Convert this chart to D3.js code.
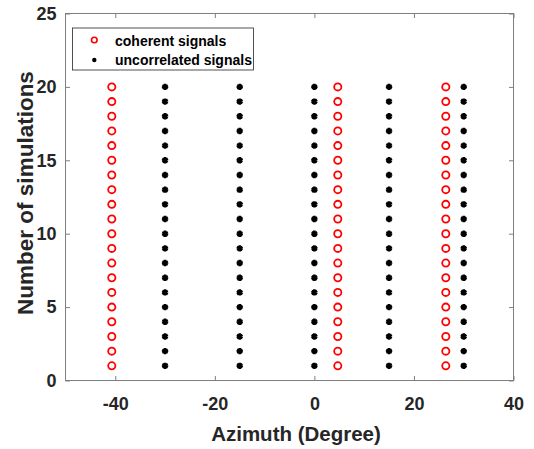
<!DOCTYPE html>
<html><head><meta charset="utf-8">
<script src="https://cdn.jsdelivr.net/npm/d3@7"></script>
<style>body{margin:0;background:#fff}svg{display:block}text{font-family:"Liberation Sans",Arial,sans-serif;font-weight:bold}</style>
</head><body><svg id="c" width="534" height="449"></svg>
<script>
const simulations = [1,2,3,4,5,6,7,8,9,10,11,12,13,14,15,16,17,18,19,20];
const coherentAzimuths = [-40.7, 4.7, 26.4];
const uncorrelatedAzimuths = [-30, -15, 0, 15, 30];
const xTicks = [-40, -20, 0, 20, 40];
const yTicks = [0, 5, 10, 15, 20, 25];
const legendLabels = ["coherent signals", "uncorrelated signals"];

const svg = d3.select("#c");
const m = {l:65.5, r:513.5, t:13.5, b:380.5};
const x = d3.scaleLinear().domain([-50, 40]).range([m.l, m.r]);
const y = d3.scaleLinear().domain([0, 25]).range([m.b, m.t]);
const axisColor = "#7f7f7f";

svg.append("rect").attr("x", m.l).attr("y", m.t).attr("width", m.r-m.l).attr("height", m.b-m.t)
  .attr("fill","none").attr("stroke", axisColor).attr("stroke-width",1);

const tl = 4.5;
const gx = svg.append("g").attr("transform",`translate(0,${m.b})`)
  .call(d3.axisBottom(x).tickValues(xTicks).tickSizeInner(-tl).tickSizeOuter(0).tickPadding(17));
const gxt = svg.append("g").attr("transform",`translate(0,${m.t})`)
  .call(d3.axisTop(x).tickValues(xTicks).tickSizeInner(-tl).tickSizeOuter(0).tickFormat(""));
const gy = svg.append("g").attr("transform",`translate(${m.l},0)`)
  .call(d3.axisLeft(y).tickValues(yTicks).tickSizeInner(-tl).tickSizeOuter(0).tickPadding(9));
const gyr = svg.append("g").attr("transform",`translate(${m.r},0)`)
  .call(d3.axisRight(y).tickValues(yTicks).tickSizeInner(-tl).tickSizeOuter(0).tickFormat(""));
[gx,gxt,gy,gyr].forEach(g=>{
  g.select(".domain").remove();
  g.selectAll("line").attr("stroke", axisColor);
  g.selectAll("text").attr("fill","#262626").style("font-size","18px").style("font-family","Liberation Sans, Arial, sans-serif").style("font-weight","bold");
});
gx.selectAll("text").text(d=>d<0?"-"+Math.abs(d):d);

const coherent = [];
coherentAzimuths.forEach(a=>simulations.forEach(s=>coherent.push({a, s})));
const uncorr = [];
uncorrelatedAzimuths.forEach(a=>simulations.forEach(s=>uncorr.push({a, s})));

const star = d3.symbol(d3.symbolAsterisk, 28);
svg.append("g").selectAll("path").data(uncorr).join("path")
  .attr("d", star).attr("transform", d=>`translate(${x(d.a)},${y(d.s)})`)
  .attr("stroke","#000").attr("stroke-width",2.6).attr("fill","none");
svg.append("g").selectAll("circle").data(coherent).join("circle")
  .attr("cx", d=>x(d.a)).attr("cy", d=>y(d.s)).attr("r", 3.6)
  .attr("fill","none").attr("stroke","#ff0000").attr("stroke-width",1.8);

const lg = svg.append("g");
lg.append("rect").attr("x",72.5).attr("y",28).attr("width",181).attr("height",42)
  .attr("fill","#fff").attr("stroke","#262626").attr("stroke-width",0.8);
lg.append("circle").attr("cx",94.3).attr("cy",40).attr("r",2.8).attr("fill","none").attr("stroke","#ff0000").attr("stroke-width",1.6);
lg.append("circle").attr("cx",94.3).attr("cy",60).attr("r",2.2).attr("fill","#000");
lg.selectAll("text.l").data(legendLabels).join("text").attr("class","l")
  .attr("x",115).attr("y",(d,i)=>45.5+i*19.5).attr("fill","#000").style("font-size","14px").text(d=>d);

svg.append("text").attr("x",296).attr("y",440.5).attr("text-anchor","middle")
  .attr("fill","#262626").style("font-size","20.5px").text("Azimuth (Degree)");
svg.append("text").attr("transform",`translate(33,193) rotate(-90)`).attr("text-anchor","middle")
  .attr("fill","#262626").style("font-size","22.5px").text("Number of simulations");
</script></body></html>
